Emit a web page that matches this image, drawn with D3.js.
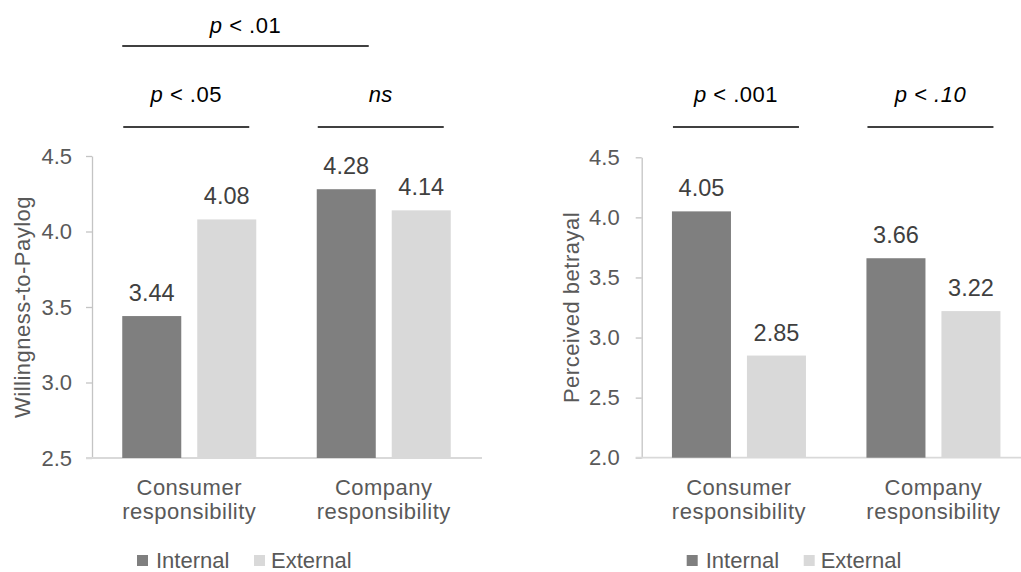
<!DOCTYPE html>
<html>
<head>
<meta charset="utf-8">
<script src="https://cdn.jsdelivr.net/npm/d3@7"></script>
<style>
  html, body { margin: 0; padding: 0; background: #fff; }
  svg text { font-family: "Liberation Sans", Arial, sans-serif; font-size: 22px; letter-spacing: 0.5px; }
</style>
</head>
<body>
<svg id="chart" width="1021" height="572"></svg>
<script>
// ---------- data ----------
const categories = ["Consumer responsibility", "Company responsibility"];
const series = ["Internal", "External"];
const wtpInternal = [3.44, 4.28];
const wtpExternal = [4.08, 4.14];
const betrayalInternal = [4.05, 3.66];
const betrayalExternal = [2.85, 3.22];
const wtpTicks = [2.5, 3.0, 3.5, 4.0, 4.5];
const betrayalTicks = [2.0, 2.5, 3.0, 3.5, 4.0, 4.5];
const wtpTitle = "Willingness-to-Paylog";
const betrayalTitle = "Perceived betrayal";
const wtpTests = ["p < .05", "ns"];
const wtpOverallTest = "p < .01";
const betrayalTests = ["p < .001", "p < .10"];

const colors = { Internal: "#7f7f7f", External: "#d9d9d9" };
const svg = d3.select("#chart");

// rich text for significance labels
function sigText(sel, label) {
  if (label === "ns") {
    sel.append("tspan").attr("font-style", "italic").text("ns");
  } else if (label === "p < .10") {
    sel.append("tspan").attr("font-style", "italic").text(label);
  } else {
    sel.append("tspan").attr("font-style", "italic").text("p");
    sel.append("tspan").text(label.slice(1));
  }
}

function panel(o) {
  const x = d3.scaleBand().domain(categories)
    .range([o.left, o.left + 389]).paddingInner(0.311).paddingOuter(0.1555);
  const xs = d3.scaleBand().domain(series).range([0, x.bandwidth()]).paddingInner(0.213);
  const y = d3.scaleLinear().domain(o.domain).range([o.bottom, o.top]);

  // y axis
  const ax = svg.append("g")
    .attr("transform", `translate(${o.left},0)`)
    .call(d3.axisLeft(y).tickValues(o.ticks).tickFormat(d3.format(".1f"))
      .tickSize(6).tickSizeOuter(0).tickPadding(o.tickPad));
  ax.select(".domain").attr("stroke", "#c4c4c4").attr("stroke-width", 1.3);
  ax.selectAll(".tick line").attr("stroke", "#c4c4c4").attr("stroke-width", 1.3);
  ax.selectAll(".tick text").attr("fill", "#595959")
    .style("font-size", "22px").style("letter-spacing", "0px")
    .attr("font-family", null);

  // baseline
  svg.append("line")
    .attr("x1", o.left - 6).attr("x2", o.baseEnd)
    .attr("y1", y(o.domain[0])).attr("y2", y(o.domain[0]))
    .attr("stroke", "#d9d9d9").attr("stroke-width", 1.8);

  // bars
  const rows = categories.map((c, i) => ({ cat: c, vals: [
    { s: "Internal", v: o.internal[i] }, { s: "External", v: o.external[i] }] }));
  const g = svg.append("g").selectAll("g").data(rows).join("g")
    .attr("transform", d => `translate(${x(d.cat)},0)`);
  g.selectAll("rect").data(d => d.vals).join("rect")
    .attr("x", d => xs(d.s)).attr("width", xs.bandwidth())
    .attr("y", d => y(d.v)).attr("height", d => y(o.domain[0]) - y(d.v))
    .attr("fill", d => colors[d.s]);
  g.selectAll("text.val").data(d => d.vals).join("text").attr("class", "val")
    .attr("x", d => xs(d.s) + xs.bandwidth() / 2)
    .attr("y", d => y(d.v) - 15)
    .attr("text-anchor", "middle").attr("fill", "#404040")
    .style("font-size", "23.5px").style("letter-spacing", "0px")
    .text(d => d.v.toFixed(2));

  // category labels
  const base = y(o.domain[0]);
  categories.forEach(c => {
    const words = c.split(" ");
    const t = svg.append("text").attr("text-anchor", "middle").attr("fill", "#595959");
    words.forEach((w, k) => t.append("tspan")
      .attr("x", x(c) + x.bandwidth() / 2).attr("y", base + 37 + k * 24).text(w));
  });

  // y title
  svg.append("text")
    .attr("transform", `translate(${o.titleX},${(o.top + o.bottom) / 2}) rotate(-90)`)
    .attr("text-anchor", "middle").attr("fill", "#595959").text(o.title);

  // legend
  const lg = svg.append("g").attr("transform", `translate(${o.left},0)`);
  lg.append("rect").attr("x", 45).attr("y", 555).attr("width", 11).attr("height", 11).attr("fill", colors.Internal);
  lg.append("text").attr("x", 64).attr("y", 568).attr("fill", "#595959").style("letter-spacing", "0px").text("Internal");
  lg.append("rect").attr("x", 162).attr("y", 555).attr("width", 11).attr("height", 11).attr("fill", colors.External);
  lg.append("text").attr("x", 179).attr("y", 568).attr("fill", "#595959").style("letter-spacing", "0px").text("External");

  // significance brackets per category
  o.tests.forEach((label, i) => {
    const cx = x(categories[i]) + x.bandwidth() / 2 - 3;
    svg.append("line").attr("x1", cx - 63).attr("x2", cx + 63)
      .attr("y1", 127).attr("y2", 127).attr("stroke", "#000").attr("stroke-width", 1.3);
    const t = svg.append("text").attr("x", cx).attr("y", 102)
      .attr("text-anchor", "middle").attr("fill", "#000");
    sigText(t, label);
  });
  return { x, y };
}

const left = panel({
  left: 92, top: 156, bottom: 458, baseEnd: 482, domain: [2.5, 4.5], ticks: wtpTicks,
  internal: wtpInternal, external: wtpExternal, title: wtpTitle, titleX: 30,
  tests: wtpTests, tickPad: 14
});
panel({
  left: 641.7, top: 157.3, bottom: 457.7, baseEnd: 1030, domain: [2.0, 4.5], ticks: betrayalTicks,
  internal: betrayalInternal, external: betrayalExternal, title: betrayalTitle, titleX: 579,
  tests: betrayalTests, tickPad: 16
});

// overall comparison (left panel)
{
  const x0 = left.x(categories[0]);
  const x1 = left.x(categories[1]) + 52;
  svg.append("line").attr("x1", x0).attr("x2", x1).attr("y1", 46).attr("y2", 46)
    .attr("stroke", "#000").attr("stroke-width", 1.3);
  const t = svg.append("text").attr("x", (x0 + x1) / 2).attr("y", 33)
    .attr("text-anchor", "middle").attr("fill", "#000");
  sigText(t, wtpOverallTest);
}
</script>
</body>
</html>
